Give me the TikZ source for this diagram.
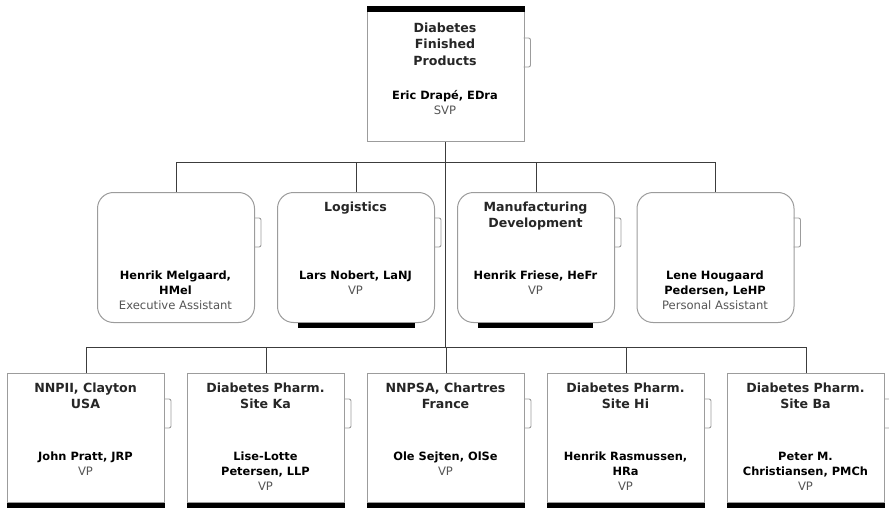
\documentclass[tikz,border=0pt]{standalone}
\usepackage{fontspec}
\setmainfont{DejaVu Sans}
\definecolor{boxgrey}{HTML}{9C9C9C}
\definecolor{linegrey}{HTML}{3C3C3C}
\definecolor{subgrey}{HTML}{555555}
\tikzset{
  box/.style={draw=boxgrey, line width=1pt, fill=white, minimum width=157pt, minimum height=130pt, inner sep=0pt, anchor=north west},
  rbox/.style={box, rounded corners=16pt},
  titletext/.style={font=\fontsize{12.6}{16.4}\selectfont\bfseries, align=center, anchor=north, inner sep=0pt, text=black!85},
  persontext/.style={font=\fontsize{11.4}{15.3}\selectfont\bfseries, align=center, anchor=north, inner sep=0pt, text=black},
  tabst/.style={draw=boxgrey, line width=0.9pt, rounded corners=2pt},
  conn/.style={draw=linegrey, line width=1pt},
  bar/.style={fill=black}
}
\newcommand\subt[1]{{\fontsize{11.6}{15.3}\selectfont\mdseries\color{subgrey}#1}}
\newcommand\orgbox[6]{%
  \node[#4] (#1) at (#2,#3) {};
  \node[titletext] (#1t) at ({#2+78.5},{#3+9.5}) {#5};
  \node[persontext] (#1p) at ({#2+78.5},{#3+78.5}) {#6};
  \draw[tabst] ({#2+157},{#3+26}) -- ++(7,0) -- ++(0,29) -- ++(-7,0);
}
\begin{document}
\begin{tikzpicture}[x=1pt,y=-1pt]
\useasboundingbox (0,0) rectangle (889,508);
\coordinate (bus1) at (0,163);
\coordinate (bus2) at (0,347);
% top
\node[box, minimum height=135pt] (top) at (366.5,6) {};
\fill[bar] (top.north west) rectangle ([yshift=-6pt]top.north east);
\node[titletext] (topt) at (445,22.5) {Diabetes\\Finished\\Products};
\node[persontext] (topp) at (445,90) {Eric Drapé, EDra\\\subt{SVP}};
\draw[tabst] (523.5,38) -- ++(7,0) -- ++(0,29) -- ++(-7,0);
% middle row
\orgbox{m1}{97}{192}{rbox}{}{Henrik Melgaard,\\HMel\\\subt{Executive Assistant}}
\orgbox{m2}{277}{192}{rbox}{Logistics}{Lars Nobert, LaNJ\\\subt{VP}}
\orgbox{m3}{457}{192}{rbox}{Manufacturing\\Development}{Henrik Friese, HeFr\\\subt{VP}}
\orgbox{m4}{636.5}{192}{rbox}{}{Lene Hougaard\\Pedersen, LeHP\\\subt{Personal Assistant}}
\fill[bar] ([xshift=21pt]m2.south west) rectangle ([xshift=-20pt,yshift=-5pt]m2.south east);
\fill[bar] ([xshift=21pt]m3.south west) rectangle ([xshift=-22pt,yshift=-5pt]m3.south east);
% bottom row
\orgbox{b1}{7}{373}{box, minimum height=129pt}{NNPII, Clayton\\USA}{John Pratt, JRP\\\subt{VP}}
\orgbox{b2}{187}{373}{box, minimum height=129pt}{Diabetes Pharm.\\Site Ka}{Lise-Lotte\\Petersen, LLP\\\subt{VP}}
\orgbox{b3}{367}{373}{box, minimum height=129pt}{NNPSA, Chartres\\France}{Ole Sejten, OlSe\\\subt{VP}}
\orgbox{b4}{547}{373}{box, minimum height=129pt}{Diabetes Pharm.\\Site Hi}{Henrik Rasmussen,\\HRa\\\subt{VP}}
\orgbox{b5}{727}{373}{box, minimum height=129pt}{Diabetes Pharm.\\Site Ba}{Peter M.\\Christiansen, PMCh\\\subt{VP}}
\foreach \b in {b1,b2,b3,b4,b5}{
  \fill[bar] (\b.south west) rectangle ([yshift=-7pt]\b.south east);
}
% connectors
\draw[conn] (top.south) -- (top.south |- bus2);
\draw[conn] (m1.north |- bus1) -- (m4.north |- bus1);
\foreach \m in {m1,m2,m3,m4}{ \draw[conn] (\m.north |- bus1) -- (\m.north); }
\draw[conn] (b1.north |- bus2) -- (b5.north |- bus2);
\foreach \b in {b1,b2,b3,b4,b5}{ \draw[conn] (\b.north |- bus2) -- (\b.north); }
\end{tikzpicture}
\end{document}
